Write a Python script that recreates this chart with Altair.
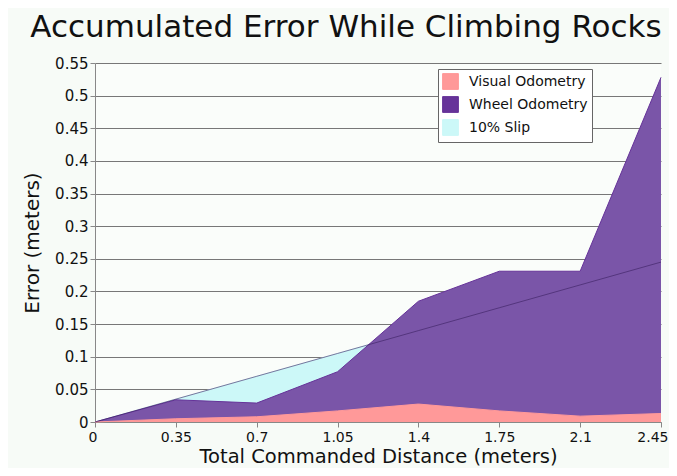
import altair as alt
import pandas as pd

distance = [0, 0.35, 0.7, 1.05, 1.4, 1.75, 2.1, 2.45]
visual = [0, 0.005, 0.008, 0.017, 0.0275, 0.017, 0.009, 0.013]
wheel = [0, 0.034, 0.029, 0.077, 0.185, 0.231, 0.231, 0.528]
slip = [0, 0.035, 0.07, 0.105, 0.14, 0.175, 0.21, 0.245]

series_names = ["Visual Odometry", "Wheel Odometry", "10% Slip"]
legend_colors = ["#ff9999", "#663399", "#ccf8f8"]
y_ticks = [0, 0.05, 0.1, 0.15, 0.2, 0.25, 0.3, 0.35, 0.4, 0.45, 0.5, 0.55]

rows = []
for name, vals in zip(series_names, [visual, wheel, slip]):
    for d, v in zip(distance, vals):
        rows.append({"distance": d, "error": v, "series": name})
df = pd.DataFrame(rows)

FONT = "DejaVu Sans"

x = alt.X("distance:Q", scale=alt.Scale(domain=[0, 2.45], nice=False),
          axis=alt.Axis(values=distance, format=".3~g", title="Total Commanded Distance (meters)",
                        grid=False, labelFontSize=14, titleFontSize=19.5, titleFont=FONT, labelFont=FONT,
                        titleFontWeight="normal", labelColor="#111", titleColor="#111",
                        domainColor="#888", tickColor="#888", labelPadding=3, titlePadding=3,
                        labelFlush=True, labelFlushOffset=7))
y = alt.Y("error:Q", scale=alt.Scale(domain=[0, 0.55], nice=False),
          axis=alt.Axis(values=y_ticks, format=".3~g", title="Error (meters)",
                        grid=True, gridColor="#777", gridWidth=1,
                        labelFontSize=15, titleFontSize=20, titleFont=FONT, labelFont=FONT,
                        titleFontWeight="normal", labelColor="#111", titleColor="#111",
                        domainColor="#888", tickColor="#888", titlePadding=12))

color = alt.Color("series:N", scale=alt.Scale(domain=series_names, range=legend_colors),
                  legend=alt.Legend(title=None, orient="none", legendX=343, legendY=6,
                                    symbolType="square", symbolSize=250, symbolStrokeColor="#888",
                                    symbolStrokeWidth=1, labelFontSize=14, labelFont=FONT,
                                    labelColor="#111", strokeColor="#666", fillColor="#ffffff",
                                    padding=4, rowPadding=2, symbolOpacity=1, labelLimit=200,
                                    labelOffset=10))

base = alt.Chart(df)

slip_area = base.transform_filter(alt.datum.series == "10% Slip").mark_area(
    color="#ccf8f8", opacity=1, line={"color": "#5a8a8a", "strokeWidth": 1}
).encode(x=x, y=y, color=color)

wheel_area = base.transform_filter(alt.datum.series == "Wheel Odometry").mark_area(
    color="#7a55a8", opacity=1, fill="#7a55a8", line={"color": "#603a8a", "strokeWidth": 1}
).encode(x=x, y=y, color=color)

visual_area = base.transform_filter(alt.datum.series == "Visual Odometry").mark_area(
    fill="#ff9999", opacity=1, line={"color": "#222255", "strokeWidth": 1}
).encode(x=x, y=y, color=color)

slip_line = base.transform_filter(alt.datum.series == "10% Slip").mark_line(
    color="#3a2060", strokeWidth=1, opacity=0.6
).encode(x=x, y=y)

chart = alt.layer(slip_area, wheel_area, visual_area, slip_line).properties(
    width=566, height=359,
    title=alt.TitleParams("Accumulated Error While Climbing Rocks", fontSize=31, font=FONT,
                          fontWeight="normal", color="#111", anchor="middle", offset=12, dx=-32),
    autosize=alt.AutoSizeParams(type="none"),
    padding={"left": 87, "top": 55, "right": 8, "bottom": 46},
    background="#f7fbf7",
).configure_view(fill="#fafdfa", stroke=None)

chart.save("out.html", embed_options={"renderer": "svg", "actions": False})
